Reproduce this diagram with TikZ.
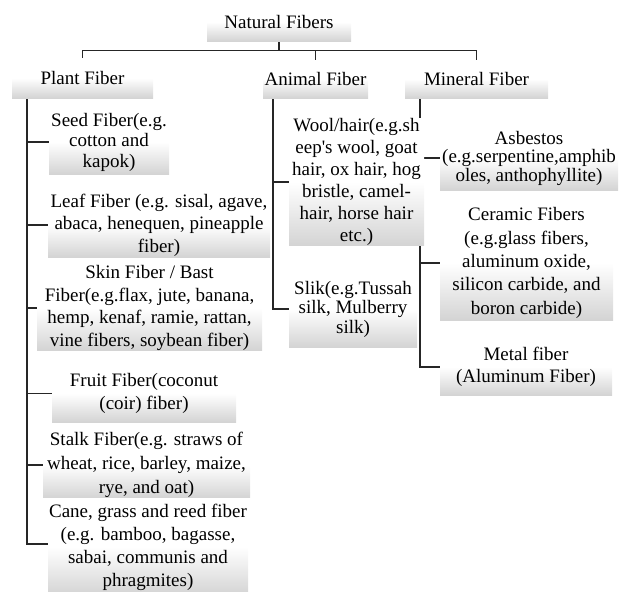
\documentclass[tikz,border=0pt]{standalone}
\usepackage{fontspec}
\setmainfont{Liberation Serif}[Ligatures=TeXOff]
\pgfdeclarelayer{bg}
\pgfsetlayers{bg,main}
\begin{document}
\begin{tikzpicture}[x=1pt,y=-1pt,
  box/.style={shape=rectangle, inner sep=0pt, align=center,
    top color=white, bottom color=black!17, middle color=white,
    font=\fontsize{19}{22}\selectfont},
  ls/.style={font=\fontsize{19}{#1}\selectfont},
  sz/.style n args={2}{minimum width=#1pt, minimum height=#2pt},
  conn/.style={draw=black!85, line width=1.2pt}]
\useasboundingbox (0,0) rectangle (619,592);

% top level
\node[box, sz={144}{38}] (nat) at (279,22) {Natural Fibers};
\node[box, sz={141}{40}] (plant) at (82.5,78) {Plant Fiber};
\node[box, sz={105}{38}] (animal) at (315.5,79) {Animal Fiber};
\node[box, sz={143}{38}] (mineral) at (476.5,79) {Mineral Fiber};

% plant children
\node[box, ls=20.5, sz={120}{64}] (seed) at (109,142) {Seed Fiber(e.g.\\cotton and\\kapok)};
\node[box, ls=22.5, sz={222}{64}] (leaf) at (159,225) {Leaf Fiber (e.g. sisal, agave,\\abaca, henequen, pineapple\\fiber)};
\node[box, ls=22.7, sz={225}{78}] (skin) at (149.5,308) {Skin Fiber / Bast\\Fiber(e.g.flax, jute, banana,\\hemp, kenaf, ramie, rattan,\\vine fibers, soybean fiber)};
\node[box, ls=23, sz={184}{57}] (fruit) at (144,393.5) {Fruit Fiber(coconut\\(coir) fiber)};
\node[box, ls=24, sz={207}{62}] (stalk) at (146.5,465) {Stalk Fiber(e.g. straws of\\wheat, rice, barley, maize,\\rye, and oat)};
\node[box, ls=23, sz={200}{96}] (cane) at (148,547) {Cane, grass and reed fiber\\(e.g. bamboo, bagasse,\\sabai, communis and\\phragmites)};

% animal children
\node[box, ls=22, sz={135}{126}] (wool) at (356.5,182) {Wool/hair(e.g.sh\\eep's wool, goat\\hair, ox hair, hog\\bristle, camel-\\hair, horse hair\\etc.)};
\node[box, ls=19.5, sz={128}{76}] (slik) at (353,309) {Slik(e.g.Tussah\\silk, Mulberry\\silk)};

% mineral children
\node[box, ls=18.5, sz={178}{64}] (asb) at (529,158) {Asbestos\\(e.g.serpentine,amphib\\oles, anthophyllite)};
\node[box, ls=23.3, sz={173}{114}] (cer) at (526.5,263) {Ceramic Fibers\\(e.g.glass fibers,\\aluminum oxide,\\silicon carbide, and\\boron carbide)};
\node[box, ls=22, sz={172}{56}] (metal) at (526,367) {Metal fiber\\(Aluminum Fiber)};

\begin{pgfonlayer}{bg}
\draw[conn] (nat.south) -- ++(0,9) coordinate (bus);
\draw[conn] (plant.north) |- (bus) -| (mineral.north);
\draw[conn] (animal.north) -- (animal.north |- bus);

\coordinate (ptop) at (27,98);
\coordinate (atop) at (273,98);
\coordinate (mtop) at (420,98);

\foreach \c in {seed,leaf,skin,fruit,stalk}
  \draw[conn] (ptop) |- (\c.west);
\draw[conn] (ptop) |- ([yshift=3pt]cane.west);
\foreach \c in {wool,slik}
  \draw[conn] (atop) |- (\c.west);
\foreach \c in {asb,cer,metal}
  \draw[conn] (mtop) |- (\c.west);
\end{pgfonlayer}
\end{tikzpicture}
\end{document}
